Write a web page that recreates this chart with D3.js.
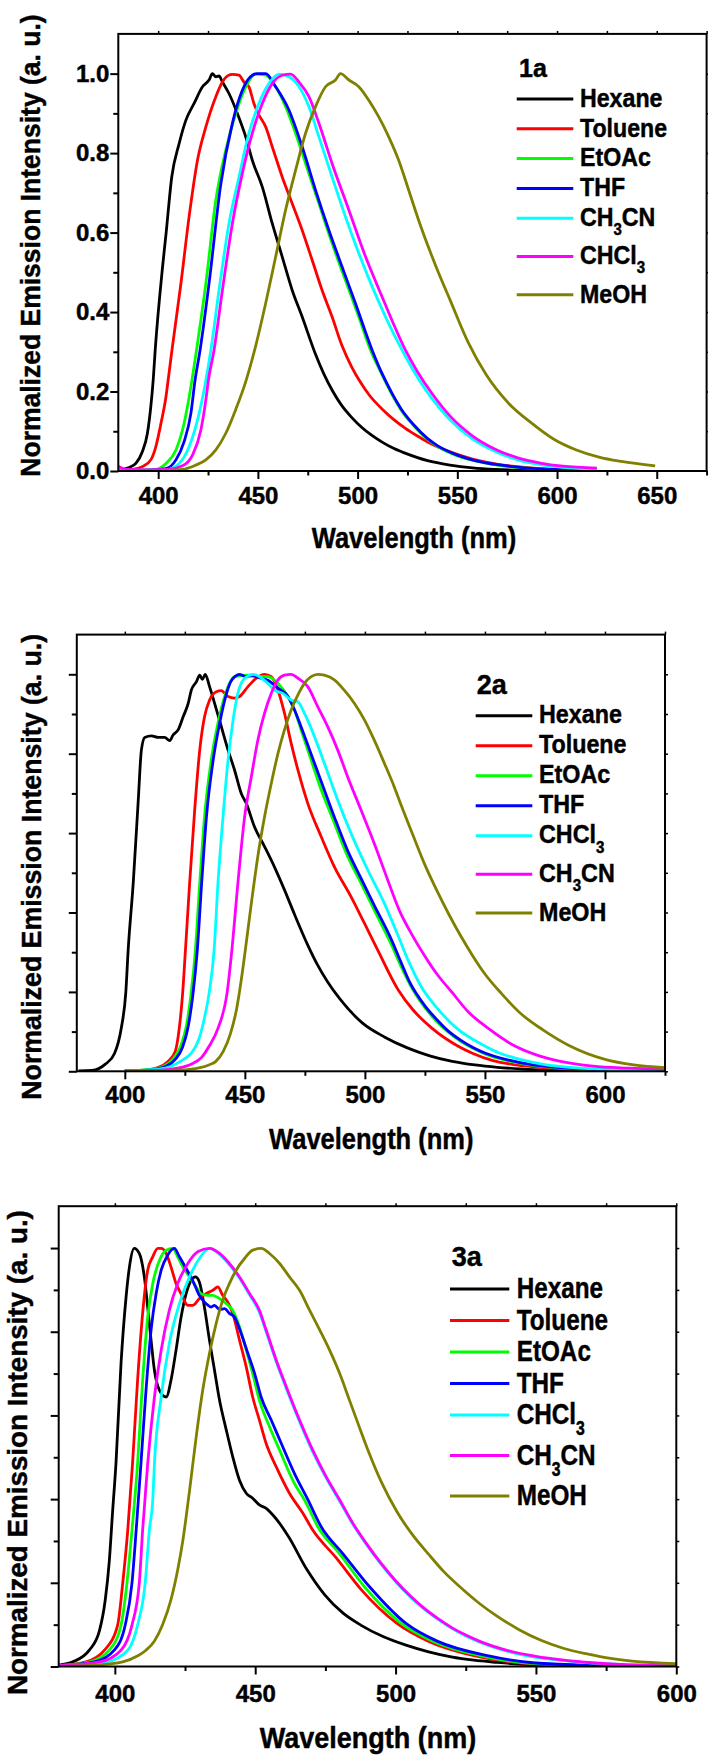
<!DOCTYPE html>
<html>
<head>
<meta charset="utf-8">
<script src="https://d3js.org/d3.v7.min.js"></script>
<style>
  body { margin: 0; background: #fff; }
  svg { display: block; }
  text { font-family: "Liberation Sans", Arial, sans-serif; font-weight: bold; fill: #000;
         stroke: #000; stroke-width: 0.45px; }
  .tick text { font-size: 24px; }
</style>
</head>
<body>
<div id="vis"></div>
<script>
//emission spectra, [wavelength nm, normalized intensity]

//---- 1a ----
const solvents1a = ["Hexane", "Toluene", "EtOAc", "THF", "CH_3CN", "CHCl_3", "MeOH"]
const hexane1a = [[380.5,0.003],[385.5,0.009],[388.8,0.019],[392.1,0.049],[394.6,0.095],[396.3,0.162],[397.5,0.229],[398.5,0.304],[402.2,0.514],[404,0.6],[406.8,0.74],[410.5,0.824],[413.9,0.883],[418,0.925],[422.2,0.967],[425.5,0.984],[427.2,1.0],[428.9,0.992],[430.5,0.994],[432.2,0.979],[435.5,0.95],[439.7,0.9],[443.9,0.841],[447.2,0.782],[452.2,0.715],[457.2,0.623],[462.2,0.539],[467.2,0.455],[472.2,0.388],[478.8,0.295],[483,0.245],[487.6,0.2],[492,0.165],[497,0.135],[502,0.11],[507,0.09],[512.5,0.072],[518,0.057],[523.8,0.045],[535.1,0.026],[546.4,0.015],[557.6,0.008],[569,0.004],[580,0.002],[595,0.001]]
const toluene1a = [[381,0.002],[387.1,0.004],[392.1,0.011],[396.3,0.028],[398.8,0.061],[401.4,0.12],[403.9,0.187],[405,0.229],[406.9,0.304],[411.4,0.472],[415.5,0.64],[419.7,0.782],[423.9,0.866],[428.9,0.942],[432.2,0.979],[435,0.995],[437.2,0.998],[440.5,0.996],[443,0.979],[445.5,0.967],[448,0.925],[450.5,0.896],[453.9,0.866],[457.2,0.816],[462.2,0.74],[467.2,0.673],[472.2,0.606],[477.2,0.531],[482.2,0.455],[487.2,0.388],[492.2,0.315],[497,0.262],[501.2,0.225],[506,0.19],[512.5,0.155],[518,0.13],[523.8,0.108],[530,0.088],[535.1,0.073],[546.4,0.048],[557.6,0.03],[569,0.018],[580.3,0.011],[591.6,0.006],[600,0.003]]
const etoac1a = [[380,0.001],[390,0.002],[398.8,0.004],[403.9,0.019],[408.9,0.053],[413,0.12],[416,0.2],[419.2,0.304],[423.9,0.472],[428.9,0.682],[433.9,0.808],[438.9,0.9],[443.9,0.967],[448.9,0.999],[453.9,0.996],[458.9,0.967],[463.9,0.917],[468.9,0.85],[473.9,0.774],[480.6,0.673],[487.2,0.573],[493.9,0.48],[500.6,0.388],[506.5,0.304],[512,0.245],[517,0.195],[522,0.152],[528,0.115],[535,0.08],[540,0.062],[550,0.038],[560,0.024],[570,0.015],[580,0.009],[590,0.006],[600,0.004],[610,0.003],[620,0.002]]
const thf1a = [[380,0.001],[395,0.002],[403.9,0.006],[408.9,0.028],[413,0.074],[416.4,0.145],[418.5,0.229],[421,0.304],[425.5,0.472],[431.4,0.722],[437.2,0.875],[442.2,0.958],[447.2,0.996],[449.7,1.0],[453.9,1.0],[458.9,0.967],[465.6,0.908],[472.2,0.816],[478.9,0.707],[485.6,0.606],[492.2,0.514],[498.9,0.422],[507.3,0.304],[512,0.248],[517,0.198],[522,0.155],[528,0.117],[535,0.082],[540,0.064],[550,0.04],[560,0.025],[570,0.016],[580,0.01],[590,0.006],[600,0.004],[610,0.003],[620,0.002]]
const ch3cn1a = [[380,0.002],[395,0.002],[403.9,0.003],[410.5,0.019],[415.5,0.061],[419.7,0.128],[423,0.204],[426.4,0.304],[430.5,0.455],[435.5,0.623],[440.5,0.74],[445.5,0.85],[450.5,0.925],[455.5,0.975],[460.6,0.999],[465.6,0.992],[470.6,0.967],[475.6,0.917],[480.6,0.841],[487.2,0.74],[493.9,0.64],[500.6,0.548],[507.3,0.464],[514,0.388],[522.3,0.304],[526,0.27],[531,0.228],[537.3,0.182],[546.4,0.128],[557.7,0.08],[569,0.049],[580.3,0.028],[591.6,0.016],[602.9,0.009],[620,0.004]]
const chcl31a = [[380,0.012],[384,0.004],[395,0.003],[405,0.004],[412.2,0.013],[417.2,0.04],[421.4,0.103],[423.9,0.179],[425.2,0.229],[428,0.304],[432.2,0.455],[437.2,0.623],[442.2,0.749],[447.2,0.85],[452.2,0.925],[457.2,0.975],[462.2,0.996],[466.4,0.999],[470.6,0.979],[475.6,0.942],[480.6,0.875],[487.2,0.774],[495.6,0.657],[504,0.539],[512.3,0.438],[518,0.37],[524,0.304],[530,0.25],[537.3,0.195],[546.4,0.138],[557.7,0.088],[569,0.055],[580.3,0.033],[591.6,0.02],[602.9,0.012],[620,0.007]]
const meoh1a = [[380,0.0],[400,0.001],[412.2,0.004],[418.9,0.015],[423.9,0.028],[428.9,0.053],[433.9,0.095],[438.9,0.155],[443.9,0.225],[448.9,0.315],[453.9,0.422],[458.9,0.539],[463.9,0.657],[468.9,0.757],[473.9,0.85],[478.9,0.917],[483.9,0.967],[488.9,0.984],[491.4,1.0],[495.6,0.984],[500.6,0.967],[505.6,0.933],[510.6,0.891],[515.6,0.841],[520.6,0.782],[525.6,0.707],[530.6,0.631],[539.6,0.511],[546.4,0.43],[555.5,0.323],[564.5,0.242],[575.8,0.17],[587.1,0.121],[598.4,0.08],[609.7,0.053],[621,0.035],[632.3,0.024],[649.2,0.013]]
const spectra1a = [hexane1a, toluene1a, etoac1a, thf1a, ch3cn1a, chcl31a, meoh1a]
const xTicks1a = [400, 450, 500, 550, 600, 650]
const xMinor1a = [425, 475, 525, 575, 625, 675]

//---- 2a ----
const solvents2a = ["Hexane", "Toluene", "EtOAc", "THF", "CHCl_3", "CH_3CN", "MeOH"]
const hexane2a = [[380.7,0.001],[386.3,0.002],[391.9,0.018],[395.7,0.045],[398.5,0.108],[400.4,0.198],[401.4,0.306],[403.5,0.474],[405.6,0.683],[406.9,0.809],[408.3,0.841],[411.1,0.845],[413.9,0.841],[416.6,0.841],[418.7,0.833],[420.1,0.847],[422.2,0.86],[424.3,0.893],[426.4,0.927],[427.7,0.96],[429.8,0.981],[431.2,0.998],[432.3,0.987],[433.5,1.0],[435.3,0.969],[437.4,0.927],[440.2,0.868],[443,0.809],[445.7,0.759],[448.5,0.7],[450.6,0.675],[454,0.616],[458.2,0.566],[462.3,0.515],[466.5,0.457],[470.7,0.395],[476.2,0.318],[480.1,0.27],[484.5,0.225],[489.5,0.183],[498.9,0.122],[508.3,0.086],[517.7,0.059],[527,0.039],[536.4,0.025],[545.8,0.016],[555.2,0.01],[564.6,0.006],[574,0.003],[583.4,0.002],[600,0.001],[625,0.0]]
const toluene2a = [[400,0.001],[408,0.003],[414,0.01],[418,0.025],[421,0.05],[422.5,0.1],[424,0.19],[425.2,0.3],[427,0.474],[429.1,0.658],[431.2,0.809],[433.2,0.893],[435.3,0.935],[438.1,0.956],[440.2,0.959],[443,0.944],[445.7,0.94],[447.8,0.944],[451.3,0.969],[454.7,0.99],[458.2,1.0],[461,0.994],[463.8,0.96],[466.5,0.902],[469.3,0.826],[472.1,0.759],[476.2,0.675],[481.8,0.591],[487.3,0.515],[494.2,0.44],[499.8,0.373],[505.3,0.306],[513.9,0.205],[520,0.155],[528,0.108],[538.3,0.065],[545,0.045],[553.3,0.027],[563,0.016],[574,0.009],[585,0.005],[600,0.003],[625,0.001]]
const etoac2a = [[400,0.001],[410,0.004],[416,0.012],[420,0.03],[423,0.06],[425.5,0.11],[427.5,0.19],[429.4,0.306],[431.2,0.474],[433.2,0.641],[436,0.784],[438.8,0.877],[441.6,0.944],[443.6,0.977],[445.7,0.994],[451.3,0.998],[456.8,0.994],[459.6,0.994],[463.8,0.977],[467.9,0.944],[470.7,0.91],[473.4,0.86],[477.6,0.784],[481.8,0.709],[487.3,0.625],[492.8,0.541],[498.4,0.474],[503.9,0.406],[510.8,0.322],[515,0.265],[520,0.205],[525,0.16],[530,0.125],[535,0.097],[540,0.075],[545,0.058],[550,0.044],[560,0.026],[570,0.015],[580,0.009],[590,0.005],[600,0.003],[625,0.001]]
const thf2a = [[400,0.001],[410,0.003],[417,0.012],[421,0.03],[424,0.06],[426.3,0.11],[428.3,0.19],[430.2,0.306],[432,0.474],[434,0.641],[436.8,0.784],[439.5,0.877],[442,0.944],[444,0.98],[446,0.995],[447.8,1.0],[450,0.995],[453,0.996],[456.8,0.99],[459.6,0.985],[463.8,0.965],[467.9,0.945],[470.7,0.91],[473.4,0.868],[479,0.776],[481.8,0.73],[487.3,0.64],[492.8,0.556],[498.4,0.486],[503.9,0.418],[510.8,0.335],[515,0.275],[518.6,0.225],[525,0.165],[530,0.13],[535,0.1],[540,0.078],[545,0.06],[550,0.046],[560,0.028],[570,0.016],[580,0.01],[590,0.006],[600,0.003],[625,0.001]]
const chcl32a = [[400,0.001],[412,0.004],[418,0.01],[421,0.018],[424.5,0.03],[427.6,0.045],[430.8,0.08],[433,0.13],[435.2,0.2],[437.2,0.306],[438.8,0.474],[440.9,0.641],[443,0.784],[445.1,0.885],[447.1,0.952],[449.9,0.99],[453.4,1.0],[456.1,0.994],[459.6,0.977],[462.3,0.96],[465.8,0.952],[469.3,0.935],[472.1,0.931],[474.8,0.902],[479,0.843],[483.1,0.776],[488.7,0.683],[494.2,0.6],[501.2,0.507],[508.1,0.423],[513.6,0.345],[518,0.28],[523.3,0.215],[530,0.16],[538.3,0.108],[548.6,0.068],[556,0.046],[564.6,0.03],[575,0.017],[585.3,0.01],[600,0.005],[625,0.002]]
const ch3cn2a = [[400,0.001],[415,0.003],[422,0.008],[427.6,0.018],[432,0.035],[435.1,0.063],[438.8,0.108],[442.6,0.198],[444.6,0.306],[447.1,0.474],[449.9,0.641],[452.7,0.742],[455.4,0.834],[458.2,0.902],[461,0.952],[463.8,0.986],[466.5,0.998],[469.3,1.0],[472.1,0.99],[476.2,0.969],[480.4,0.918],[484.5,0.868],[488.7,0.809],[492.8,0.742],[498.4,0.658],[503.9,0.574],[509.5,0.482],[514.3,0.406],[520,0.34],[525,0.29],[530,0.245],[536.4,0.198],[543,0.15],[551.4,0.108],[562.7,0.063],[572,0.04],[581.5,0.025],[595,0.013],[610,0.008],[625,0.005]]
const meoh2a = [[400,0.001],[420,0.003],[427,0.005],[431.3,0.009],[435,0.016],[437.9,0.025],[441,0.05],[444,0.095],[446.5,0.155],[448.5,0.23],[450.2,0.306],[452.7,0.423],[455.4,0.541],[458.2,0.641],[461,0.725],[463.8,0.801],[466.5,0.86],[469.3,0.91],[472.1,0.948],[474.8,0.977],[477.6,0.994],[480.4,1.0],[483.1,0.998],[487.3,0.986],[491.4,0.96],[495.6,0.927],[499.8,0.885],[503.9,0.834],[508.1,0.776],[512.2,0.717],[515,0.672],[520,0.595],[525,0.52],[530,0.455],[535,0.395],[540,0.34],[545,0.29],[550,0.245],[557,0.195],[565,0.145],[574,0.105],[585,0.065],[600,0.03],[612,0.016],[625,0.009]]
const spectra2a = [hexane2a, toluene2a, etoac2a, thf2a, chcl32a, ch3cn2a, meoh2a]
const xTicks2a = [400, 450, 500, 550, 600]
const xMinor2a = [425, 475, 525, 575, 625]

//---- 3a ----
const solvents3a = ["Hexane", "Toluene", "EtOAc", "THF", "CHCl_3", "CH_3CN", "MeOH"]
const hexane3a = [[380,0.003],[385,0.011],[390.9,0.039],[394.5,0.085],[396.6,0.16],[398,0.25],[399.2,0.37],[400.4,0.485],[402.2,0.724],[404,0.883],[405.2,0.955],[406.9,0.999],[408.7,0.987],[410.5,0.931],[411.7,0.859],[412.9,0.78],[414.1,0.708],[415.9,0.66],[418.3,0.644],[420,0.684],[421.8,0.756],[423.6,0.835],[425.4,0.891],[427.2,0.923],[428.7,0.931],[430.1,0.919],[431.9,0.859],[433.7,0.78],[435.5,0.708],[437.3,0.636],[439.7,0.565],[442,0.501],[444.4,0.445],[446.8,0.414],[449.1,0.402],[451.5,0.386],[453.9,0.378],[456.3,0.362],[458.7,0.342],[461.9,0.31],[468.3,0.233],[474.7,0.172],[481.2,0.128],[487.6,0.099],[495.7,0.071],[503.7,0.051],[511.8,0.035],[519.8,0.023],[527.9,0.015],[536,0.01],[544,0.006],[552,0.004],[568,0.002],[600,0.001]]
const toluene3a = [[380,0.002],[389.7,0.011],[396.3,0.039],[401,0.099],[402.8,0.199],[404.6,0.326],[406.3,0.485],[408.1,0.684],[409.9,0.844],[411.7,0.947],[413.5,0.979],[415.3,0.999],[416.5,0.999],[418.3,0.987],[420,0.955],[421.8,0.915],[423.6,0.891],[426,0.863],[427.7,0.863],[430.1,0.879],[432.5,0.891],[434.9,0.899],[436.7,0.907],[438.4,0.887],[440.2,0.871],[442,0.844],[444.4,0.78],[446.8,0.716],[449.1,0.644],[451.5,0.589],[453.9,0.533],[457.5,0.477],[462.2,0.414],[467,0.366],[470.5,0.326],[478.8,0.26],[487.6,0.185],[500.5,0.103],[511.8,0.06],[527.9,0.026],[544,0.009],[560,0.004],[580,0.002],[600,0.001]]
const etoac3a = [[380,0.002],[391,0.011],[398,0.039],[402.2,0.099],[404.3,0.199],[406.1,0.326],[408.1,0.485],[409.9,0.684],[411.7,0.835],[413.5,0.915],[415.9,0.971],[418.3,0.995],[420.6,0.999],[422.4,0.979],[424.2,0.955],[426.6,0.931],[429,0.907],[430.7,0.891],[433.1,0.887],[434.9,0.887],[437.3,0.879],[439.7,0.867],[442,0.851],[444.4,0.812],[446.8,0.756],[449.1,0.7],[451.5,0.636],[455.1,0.573],[458.7,0.517],[463.4,0.445],[468.2,0.39],[472.3,0.334],[480,0.27],[489,0.19],[502,0.103],[513.4,0.06],[530,0.026],[546,0.009],[560,0.004],[580,0.002],[600,0.001]]
const thf3a = [[380,0.002],[392.7,0.011],[399.8,0.039],[403.7,0.099],[406.1,0.199],[407.6,0.326],[409.3,0.485],[411.1,0.66],[412.9,0.804],[414.7,0.891],[416.5,0.947],[418.8,0.983],[421.2,0.999],[423,0.979],[425.4,0.951],[427.7,0.923],[430.1,0.887],[432.5,0.867],[434.3,0.859],[435.5,0.863],[437.3,0.853],[439.1,0.855],[440.8,0.844],[442.6,0.835],[445,0.796],[447.4,0.748],[449.8,0.7],[452.1,0.644],[455.7,0.589],[459.3,0.533],[464,0.461],[468.8,0.398],[473.5,0.334],[481.2,0.27],[490.8,0.19],[503.7,0.103],[515,0.06],[532.7,0.026],[548.8,0.009],[565,0.004],[585,0.002],[600,0.001]]
const chcl33a = [[380,0.002],[396.9,0.011],[404.6,0.039],[408.1,0.099],[410.8,0.199],[412.3,0.326],[413.5,0.398],[414.1,0.485],[416.5,0.644],[419.4,0.772],[423,0.867],[426.6,0.931],[430.1,0.975],[433.7,0.999],[437.3,0.985],[440.8,0.96],[444.4,0.928],[448,0.888],[451.5,0.846],[453.9,0.8],[457.5,0.728],[461.1,0.664],[465.8,0.585],[470.5,0.513],[475.3,0.45],[480.1,0.395],[484.8,0.34],[490,0.288],[495,0.243],[500,0.203],[505,0.168],[510,0.138],[515,0.113],[520,0.091],[525,0.073],[530,0.058],[540,0.036],[550,0.022],[560,0.014],[570,0.008],[580,0.005],[600,0.002]]
const ch3cn3a = [[380,0.002],[394.5,0.011],[402.2,0.039],[406.1,0.099],[408.7,0.199],[409.9,0.326],[411.7,0.485],[414.1,0.644],[416.5,0.756],[419.4,0.851],[422.4,0.915],[426,0.963],[429.5,0.991],[433.7,0.999],[437.3,0.987],[440.8,0.963],[444.4,0.931],[448,0.891],[451.5,0.851],[453.9,0.804],[457.5,0.732],[461.1,0.668],[465.8,0.589],[470.5,0.517],[475.3,0.453],[480.1,0.398],[484.8,0.342],[490,0.29],[495,0.245],[500,0.205],[505,0.17],[510,0.14],[515,0.115],[520,0.093],[525,0.075],[530,0.06],[540,0.038],[550,0.024],[560,0.015],[570,0.009],[580,0.005],[600,0.002]]
const meoh3a = [[380,0.0],[393,0.003],[402.8,0.011],[408,0.025],[411.1,0.039],[414,0.06],[417,0.1],[420,0.16],[422.5,0.235],[424.2,0.3],[426.6,0.42],[429,0.55],[431.3,0.66],[433.7,0.748],[436.1,0.82],[438.4,0.875],[440.8,0.915],[443.2,0.947],[446.2,0.975],[449.1,0.995],[452.1,0.999],[455.1,0.987],[458.7,0.963],[462.2,0.931],[465.8,0.899],[469.4,0.851],[473,0.804],[476.5,0.756],[480.1,0.7],[483.6,0.636],[486.6,0.581],[490,0.52],[495,0.44],[500.5,0.37],[506,0.315],[511.8,0.268],[517,0.228],[523,0.19],[530,0.15],[536,0.121],[544,0.088],[552,0.062],[560,0.043],[568.2,0.03],[576,0.02],[584.3,0.013],[600,0.007]]
const spectra3a = [hexane3a, toluene3a, etoac3a, thf3a, chcl33a, ch3cn3a, meoh3a]
const xTicks3a = [400, 450, 500, 550, 600]
const xMinor3a = [425, 475, 525, 575]

const yTicks = [0, 0.2, 0.4, 0.6, 0.8, 1.0]
const yMinor = [0.1, 0.3, 0.5, 0.7, 0.9]
const yFine = [0, 0.1, 0.2, 0.3, 0.4, 0.5, 0.6, 0.7, 0.8, 0.9, 1.0]

//same colour sequence in all three panels
const colors = ["#000000", "#ff0000", "#00ff00", "#0000ff", "#00ffff", "#ff00ff", "#808000"]

//layout of each panel, measured on the figure
const panels = [
    { name: "1a", solvents: solvents1a, spectra: spectra1a, xTicks: xTicks1a, xMinor: xMinor1a,
      xDomain: [380, 675], left: 118.3, right: 706.6, top: 33.9, bottom: 471, yLabels: true, pad: 8,
      xTitle: { x: 414, y: 548.3, size: 30, sx: 0.85 }, yTitle: { x: 40, y: 245.5, size: 28.5, sx: 0.93 },
      legend: { x: 516.7, len: 56.6, tx: 580, y0: 99, gap: 29.8, extra: 8.5, size: 25.6, sx: 0.906, dy: 7.7,
                head: { x: 519, y: 77.3, size: 25 } } },
    { name: "2a", solvents: solvents2a, spectra: spectra2a, xTicks: xTicks2a, xMinor: xMinor2a,
      xDomain: [380, 625], left: 76.8, right: 665, top: 634.6, bottom: 1071.3, yLabels: false, pad: 7,
      xTitle: { x: 371.3, y: 1149.1, size: 30, sx: 0.85 }, yTitle: { x: 41, y: 866.8, size: 28.5, sx: 0.937 },
      legend: { x: 475.7, len: 56.6, tx: 539, y0: 715.7, gap: 30, extra: 8.6, size: 25.6, sx: 0.91, dy: 7.6,
                head: { x: 476.7, y: 694, size: 27 } } },
    { name: "3a", solvents: solvents3a, spectra: spectra3a, xTicks: xTicks3a, xMinor: xMinor3a,
      xDomain: [380, 600], left: 58.7, right: 676.3, top: 1206.2, bottom: 1666.5, yLabels: false, pad: 10,
      xTitle: { x: 368, y: 1747.7, size: 30, sx: 0.9 }, yTitle: { x: 27.3, y: 1452.6, size: 28, sx: 0.993 },
      legend: { x: 450, len: 59.3, tx: 516.7, y0: 1289, gap: 31.5, extra: 9, size: 30, sx: 0.81, dy: 9.3,
                head: { x: 451.7, y: 1266, size: 27 } } }
]

const svg = d3.select("#vis")
    .append("svg")
    .attr("width", 708)
    .attr("height", 1756)

//text with optional subscripts written as "_3", squeezed horizontally by sx
function addText(g, x, y, str, size, sx, anchor, rotate) {
    const t = g.append("text")
        .attr("transform", `translate(${x},${y})` + (rotate ? ` rotate(${rotate})` : "") + ` scale(${sx},1)`)
        .attr("text-anchor", anchor || "start")
        .style("font-size", size + "px")
    const parts = str.split(/_(\d)/)
    parts.forEach((p, i) => {
        if (!p) return
        if (i % 2 === 1) {
            t.append("tspan").attr("dy", size * 0.36).style("font-size", (size * 0.65) + "px").text(p)
        } else {
            t.append("tspan").attr("dy", i > 0 ? -size * 0.36 : 0).text(p)
        }
    })
    return t
}

function styleTicks(g, w) {
    g.select(".domain").remove()
    g.selectAll(".tick line").attr("stroke", "#000").attr("stroke-width", w)
}

panels.forEach((p, pi) => {
    const x = d3.scaleLinear().domain(p.xDomain).range([p.left, p.right])
    const y = d3.scaleLinear().domain([0, 1.1]).range([p.bottom, p.top])
    const g = svg.append("g")

    //clip the spectra to the frame
    g.append("clipPath").attr("id", "clip" + pi)
        .append("rect")
        .attr("x", p.left).attr("y", p.top)
        .attr("width", p.right - p.left).attr("height", p.bottom - p.top)

    //bottom axis: labelled major ticks, then minor ticks
    const xb = g.append("g").attr("transform", `translate(0,${p.bottom})`)
        .call(d3.axisBottom(x).tickValues(p.xTicks).tickSize(8).tickPadding(p.pad).tickFormat(d3.format("d")))
    styleTicks(xb, 2)
    const xbm = g.append("g").attr("transform", `translate(0,${p.bottom})`)
        .call(d3.axisBottom(x).tickValues(p.xMinor).tickSize(4.5).tickFormat(""))
    styleTicks(xbm, 2)

    //left axis
    const yl = g.append("g").attr("transform", `translate(${p.left},0)`)
        .call(d3.axisLeft(y).tickValues(yTicks).tickSize(8).tickPadding(1)
            .tickFormat(p.yLabels ? d3.format(".1f") : ""))
    styleTicks(yl, 2)
    const ylm = g.append("g").attr("transform", `translate(${p.left},0)`)
        .call(d3.axisLeft(y).tickValues(yMinor).tickSize(5).tickFormat(""))
    styleTicks(ylm, 2)

    //small outward ticks on the top and right edges
    const xt = g.append("g").attr("transform", `translate(0,${p.top})`)
        .call(d3.axisTop(x).tickValues(p.xTicks.concat(p.xMinor)).tickSize(3).tickFormat(""))
    styleTicks(xt, 1.5)
    const yr = g.append("g").attr("transform", `translate(${p.right},0)`)
        .call(d3.axisRight(y).tickValues(yFine).tickSize(3).tickFormat(""))
    styleTicks(yr, 1.5)

    //spectra
    const line = d3.line()
        .x(d => x(d[0]))
        .y(d => y(d[1]))
        .curve(d3.curveMonotoneX)

    g.append("g")
        .attr("clip-path", `url(#clip${pi})`)
        .selectAll("path")
        .data(p.spectra)
        .enter()
        .append("path")
        .attr("d", line)
        .attr("fill", "none")
        .attr("stroke", (d, i) => colors[i])
        .attr("stroke-width", 2.8)
        .attr("stroke-linejoin", "round")

    //frame
    g.append("rect")
        .attr("x", p.left).attr("y", p.top)
        .attr("width", p.right - p.left).attr("height", p.bottom - p.top)
        .attr("fill", "none").attr("stroke", "#000").attr("stroke-width", 2)

    //axis titles
    addText(g, p.xTitle.x, p.xTitle.y, "Wavelength (nm)", p.xTitle.size, p.xTitle.sx, "middle")
    addText(g, p.yTitle.x, p.yTitle.y, "Normalized Emission Intensity (a. u.)", p.yTitle.size, p.yTitle.sx, "middle", -90)

    //legend
    const L = p.legend
    addText(g, L.head.x, L.head.y, p.name, L.head.size, 1)
    let rowY = L.y0
    p.solvents.forEach((s, i) => {
        if (i > 0) rowY += L.gap + (p.solvents[i - 1].includes("_") ? L.extra : 0)
        g.append("line")
            .attr("x1", L.x).attr("x2", L.x + L.len)
            .attr("y1", rowY).attr("y2", rowY)
            .attr("stroke", colors[i]).attr("stroke-width", 3)
        addText(g, L.tx, rowY + L.dy, s, L.size, L.sx)
    })
})
</script>
</body>
</html>
